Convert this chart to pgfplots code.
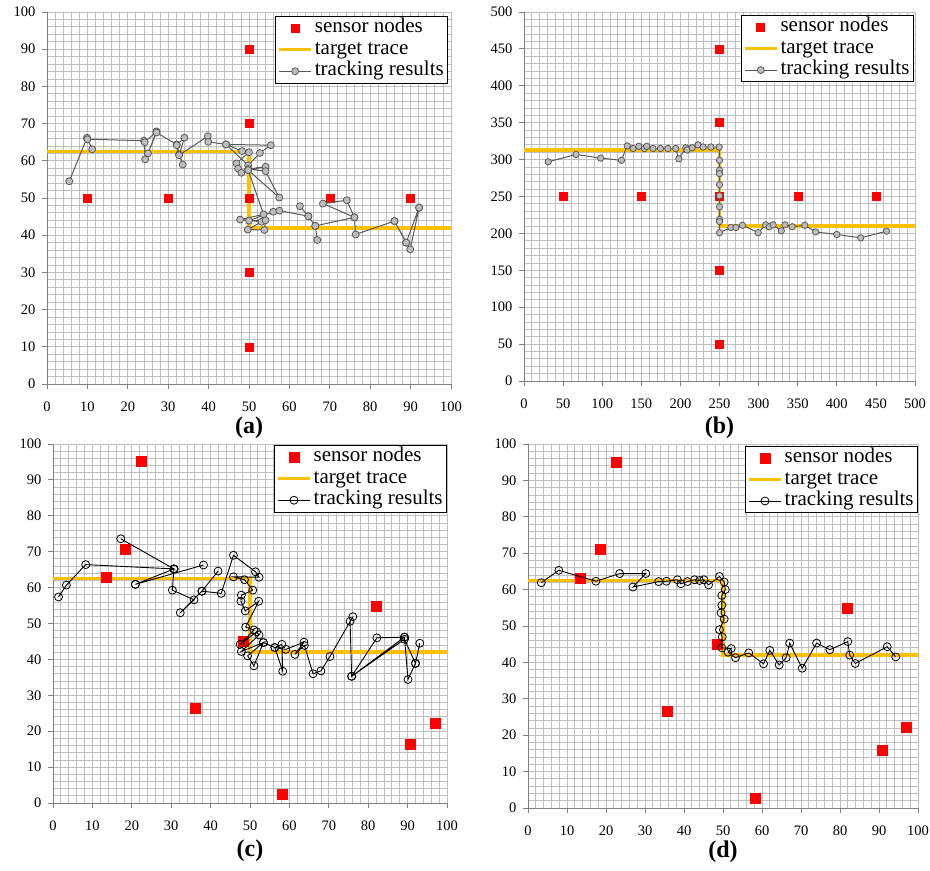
\documentclass[border=0pt]{standalone}
\usepackage{pgfplots}
\pgfplotsset{compat=1.18}
\usepackage{fontspec}
\setmainfont{Liberation Serif}
\definecolor{sensorred}{HTML}{FF0000}
\definecolor{tracegold}{HTML}{FFC000}
\definecolor{gridgray}{HTML}{BEBEBE}
\definecolor{trackgray}{HTML}{595959}
\definecolor{trackfill}{HTML}{BDBDBD}
\pgfplotsset{
  panel/.style={
    scale only axis,
    clip mode=individual,
    axis x line*=bottom, axis y line*=left,
    axis line style={draw=black!50, line width=0.9pt},
    grid=both,
    major grid style={draw=gridgray, line width=0.8pt},
    minor grid style={draw=gridgray, line width=0.8pt},
    minor tick num=4,
    tick align=outside,
    major tick length=5pt, minor tick length=0pt,
    tick style={draw=black!50, line width=0.8pt},
    ticklabel style={font=\fontsize{14.5}{14.5}\selectfont},
    /pgf/number format/assume math mode=true,
    xticklabel style={yshift=-9pt},
    yticklabel style={xshift=-3pt},
    legend cell align=left,
    legend image code/.code={\draw[mark repeat=2,mark phase=2,##1] plot coordinates {(0pt,0pt) (16pt,0pt) (32pt,0pt)};},
    legend style={font=\fontsize{21}{22}\selectfont, draw=black, line width=0.8pt, fill=white,
      inner xsep=2pt, inner ysep=1pt, row sep=0pt, anchor=north east,
      nodes={inner xsep=2pt, inner ysep=0.5pt, text height=15pt, text depth=5.5pt}},
  },
  sensor/.style={only marks, mark=square*, mark size=#1, color=sensorred, mark options={draw=sensorred, fill=sensorred}},
  trace/.style={color=tracegold, line width=3.5pt, mark=none},
  trackA/.style={color=trackgray, line width=1pt, mark=*, mark size=3.5pt, mark options={draw=trackgray, fill=trackfill, line width=0.8pt}},
  trackC/.style={color=black, line width=0.9pt, mark=o, mark size=4pt, mark options={draw=black, line width=0.8pt}},
}
\begin{document}
\begin{tikzpicture}
\path[use as bounding box] (0pt,0pt) rectangle (930pt,871pt);

% ---------------- (a)
\begin{axis}[panel, at={(47pt,487pt)}, anchor=south west, width=404pt, height=372pt,
  xmin=0, xmax=100, ymin=0, ymax=100, xtick={0,10,...,100}, ytick={0,10,...,100},
  legend style={at={(axis description cs:0.993,0.989)}}]
\addlegendimage{sensor=4pt}\addlegendentry{sensor nodes}
\addlegendimage{trace}\addlegendentry{target trace}
\addlegendimage{trackA}\addlegendentry{tracking results}
\addplot[trace, forget plot] coordinates {(0,62.5) (50,62.5) (50,42) (100,42)};
\addplot[sensor=4pt, forget plot] coordinates {(10,50) (30,50) (50,50) (70,50) (90,50) (50,90) (50,70) (50,30) (50,10)};
\addplot[trackA, forget plot] coordinates {
(5.5,54.5) (9.9,66.2) (11.2,63.1) (10.0,65.8) (24.0,65.4) (24.3,60.4) (24.2,65.0) (27.1,67.9)
(25.0,62.0) (27.1,67.6) (32.1,64.4) (33.6,59.0) (32.7,61.7) (32.1,64.2) (34.0,66.2) (32.7,61.5)
(39.8,66.6) (39.9,65.1) (44.3,64.4) (55.4,64.2) (52.7,62.1) (49.8,58.8) (44.3,64.4) (48.3,62.6) (50.0,62.3)
(46.9,59.3) (47.3,57.9) (48.1,56.8) (49.8,57.5) (54.1,58.4) (49.8,57.8) (54.1,57.2) (57.5,50.1)
(49.8,57.5) (53.6,45.6) (47.8,44.2) (53.1,43.6) (49.7,41.5) (53.8,41.4) (54.1,44.0) (50.0,43.9)
(56.0,46.3) (57.5,46.6) (64.7,45.1) (62.6,47.8) (64.7,45.1) (66.4,42.5) (66.9,38.7) (66.4,42.5)
(76.1,44.8) (68.3,48.5) (74.2,49.4) (76.1,44.8) (76.4,40.2) (86.0,43.8) (88.9,38.0) (92.1,47.4)
(89.9,36.2) (86.0,43.8) (88.9,38.0) (92.1,47.4)};
\node[font=\fontsize{24}{24}\selectfont\bfseries] at (axis description cs:0.5,-0.118) {(a)};
\end{axis}

% ---------------- (b)
\begin{axis}[panel, at={(524pt,490pt)}, anchor=south west, width=391pt, height=369pt,
  xmin=0, xmax=500, ymin=0, ymax=500, xtick={0,50,...,500}, ytick={0,50,...,500},
  legend style={at={(axis description cs:0.997,0.992)}}]
\addlegendimage{sensor=4pt}\addlegendentry{sensor nodes}
\addlegendimage{trace}\addlegendentry{target trace}
\addlegendimage{trackA}\addlegendentry{tracking results}
\addplot[trace, forget plot] coordinates {(0,313) (250,313) (250,210) (500,210)};
\addplot[sensor=4pt, forget plot] coordinates {(50,250) (150,250) (250,250) (350,250) (450,250) (250,450) (250,350) (250,150) (250,50)};
\addplot[trackA, mark size=3.2pt, forget plot] coordinates {
(31,297) (66.5,307) (98,302) (124.6,299) (132,318.6) (139.5,315) (146.8,318) (154,315) (157,318)
(165,315) (174.5,315) (184,315) (194,315) (198,301) (207,316) (208.6,313) (215,316) (222.6,320)
(229,317) (239,317) (249.6,317) (250,299) (250,285.6) (250,281) (250,266) (250,251) (250,236)
(250,219) (250,216) (250,201) (264.5,208) (271,208) (279.4,211) (299.5,201) (309,211.6)
(313.6,209) (318.6,211.6) (329,203.5) (333.6,211.6) (343,209) (359,211) (373,202) (400,198.5)
(430.5,194) (463.7,203)};
\node[font=\fontsize{24}{24}\selectfont\bfseries] at (axis description cs:0.5,-0.127) {(b)};
\end{axis}

% ---------------- (c)
\begin{axis}[panel, at={(53pt,68pt)}, anchor=south west, width=394pt, height=359pt,
  xmin=0, xmax=100, ymin=0, ymax=100, xtick={0,10,...,100}, ytick={0,10,...,100},
  legend style={at={(axis description cs:1.0,0.997)}}]
\addlegendimage{sensor=5pt}\addlegendentry{sensor nodes}
\addlegendimage{trace}\addlegendentry{target trace}
\addlegendimage{trackC}\addlegendentry{tracking results}
\addplot[trace, forget plot] coordinates {(0,62.5) (50,62.5) (50,42) (100,42)};
\addplot[sensor=5pt, forget plot] coordinates {(22.4,95.1) (18.4,70.8) (13.4,62.8) (36.0,26.5) (48.4,45.0) (58.1,2.5) (82.0,54.9) (90.7,16.5) (97.0,22.1)};
\addplot[trackC, forget plot] coordinates {
(1.4,57.4) (3.4,60.7) (8.3,66.4) (30.7,65.2) (17.2,73.6) (30.7,65.2) (20.9,60.9) (38.2,66.3)
(20.9,60.9) (30.7,65.2) (30.3,59.3) (35.8,56.6) (32.3,53.0) (37.8,59.0) (41.9,64.6) (37.8,59.0)
(42.7,58.4) (45.8,69.0) (51.4,64.4) (52.3,62.9) (45.8,63.0) (48.6,62.2) (50.7,59.3) (47.8,57.9)
(47.7,56.2) (48.8,53.5) (52.2,56.2) (48.9,49.0) (51.0,48.2) (47.5,44.2) (51.7,47.7) (52.3,46.8)
(47.8,42.2) (53.4,44.7) (49.4,41.0) (51.0,38.2) (53.4,44.7) (56.3,43.3) (58.1,44.2) (58.3,36.7)
(56.3,43.3) (59.1,42.8) (63.7,44.8) (61.4,41.4) (63.8,43.9) (66.0,36.0) (68.0,36.8) (70.3,40.8)
(76.1,51.9) (75.4,50.6) (75.8,35.3) (82.2,46.0) (89.2,46.2) (75.8,35.3) (89.2,45.6) (92.0,38.9)
(93.1,44.5) (92.0,38.9) (90.1,34.4) (89.2,46.2)};
\node[font=\fontsize{24}{24}\selectfont\bfseries] at (axis description cs:0.5,-0.134) {(c)};
\end{axis}

% ---------------- (d)
\begin{axis}[panel, at={(528pt,63pt)}, anchor=south west, width=390pt, height=364pt,
  xmin=0, xmax=100, ymin=0, ymax=100, xtick={0,10,...,100}, ytick={0,10,...,100},
  legend style={at={(axis description cs:1.0,0.995)}}]
\addlegendimage{sensor=5pt}\addlegendentry{sensor nodes}
\addlegendimage{trace}\addlegendentry{target trace}
\addlegendimage{trackC}\addlegendentry{tracking results}
\addplot[trace, forget plot] coordinates {(0,62.5) (50,62.5) (50,42) (100,42)};
\addplot[sensor=5pt, forget plot] coordinates {(22.5,95.1) (18.5,71.0) (13.3,63.2) (35.8,26.6) (48.4,45.1) (58.2,2.7) (81.8,54.8) (90.8,16.0) (96.9,22.3)};
\addplot[trackC, forget plot] coordinates {
(3.4,61.9) (7.9,65.3) (17.4,62.3) (23.5,64.4) (30.2,64.4) (26.9,60.7) (33.5,62.2) (35.5,62.3)
(38.3,62.7) (39.2,61.6) (40.9,62.2) (42.7,62.7) (44.0,62.5) (45.1,62.7) (46.3,61.3) (49.1,63.6)
(50.3,62.1) (50.6,60.0) (49.7,58.4) (49.7,55.7) (49.5,53.6) (50.3,51.9) (49.1,49.0) (49.8,47.0)
(49.7,44.0) (52.1,43.8) (51.3,42.8) (53.2,41.3) (56.6,42.6) (60.4,39.6) (62.0,43.3) (64.4,39.3)
(66.2,41.3) (67.1,45.3) (70.3,38.4) (74.0,45.3) (77.4,43.5) (82.0,45.7) (82.5,42.0) (83.9,39.7)
(92.1,44.3) (94.3,41.5)};
\node[font=\fontsize{24}{24}\selectfont\bfseries] at (axis description cs:0.5,-0.121) {(d)};
\end{axis}
\end{tikzpicture}
\end{document}
